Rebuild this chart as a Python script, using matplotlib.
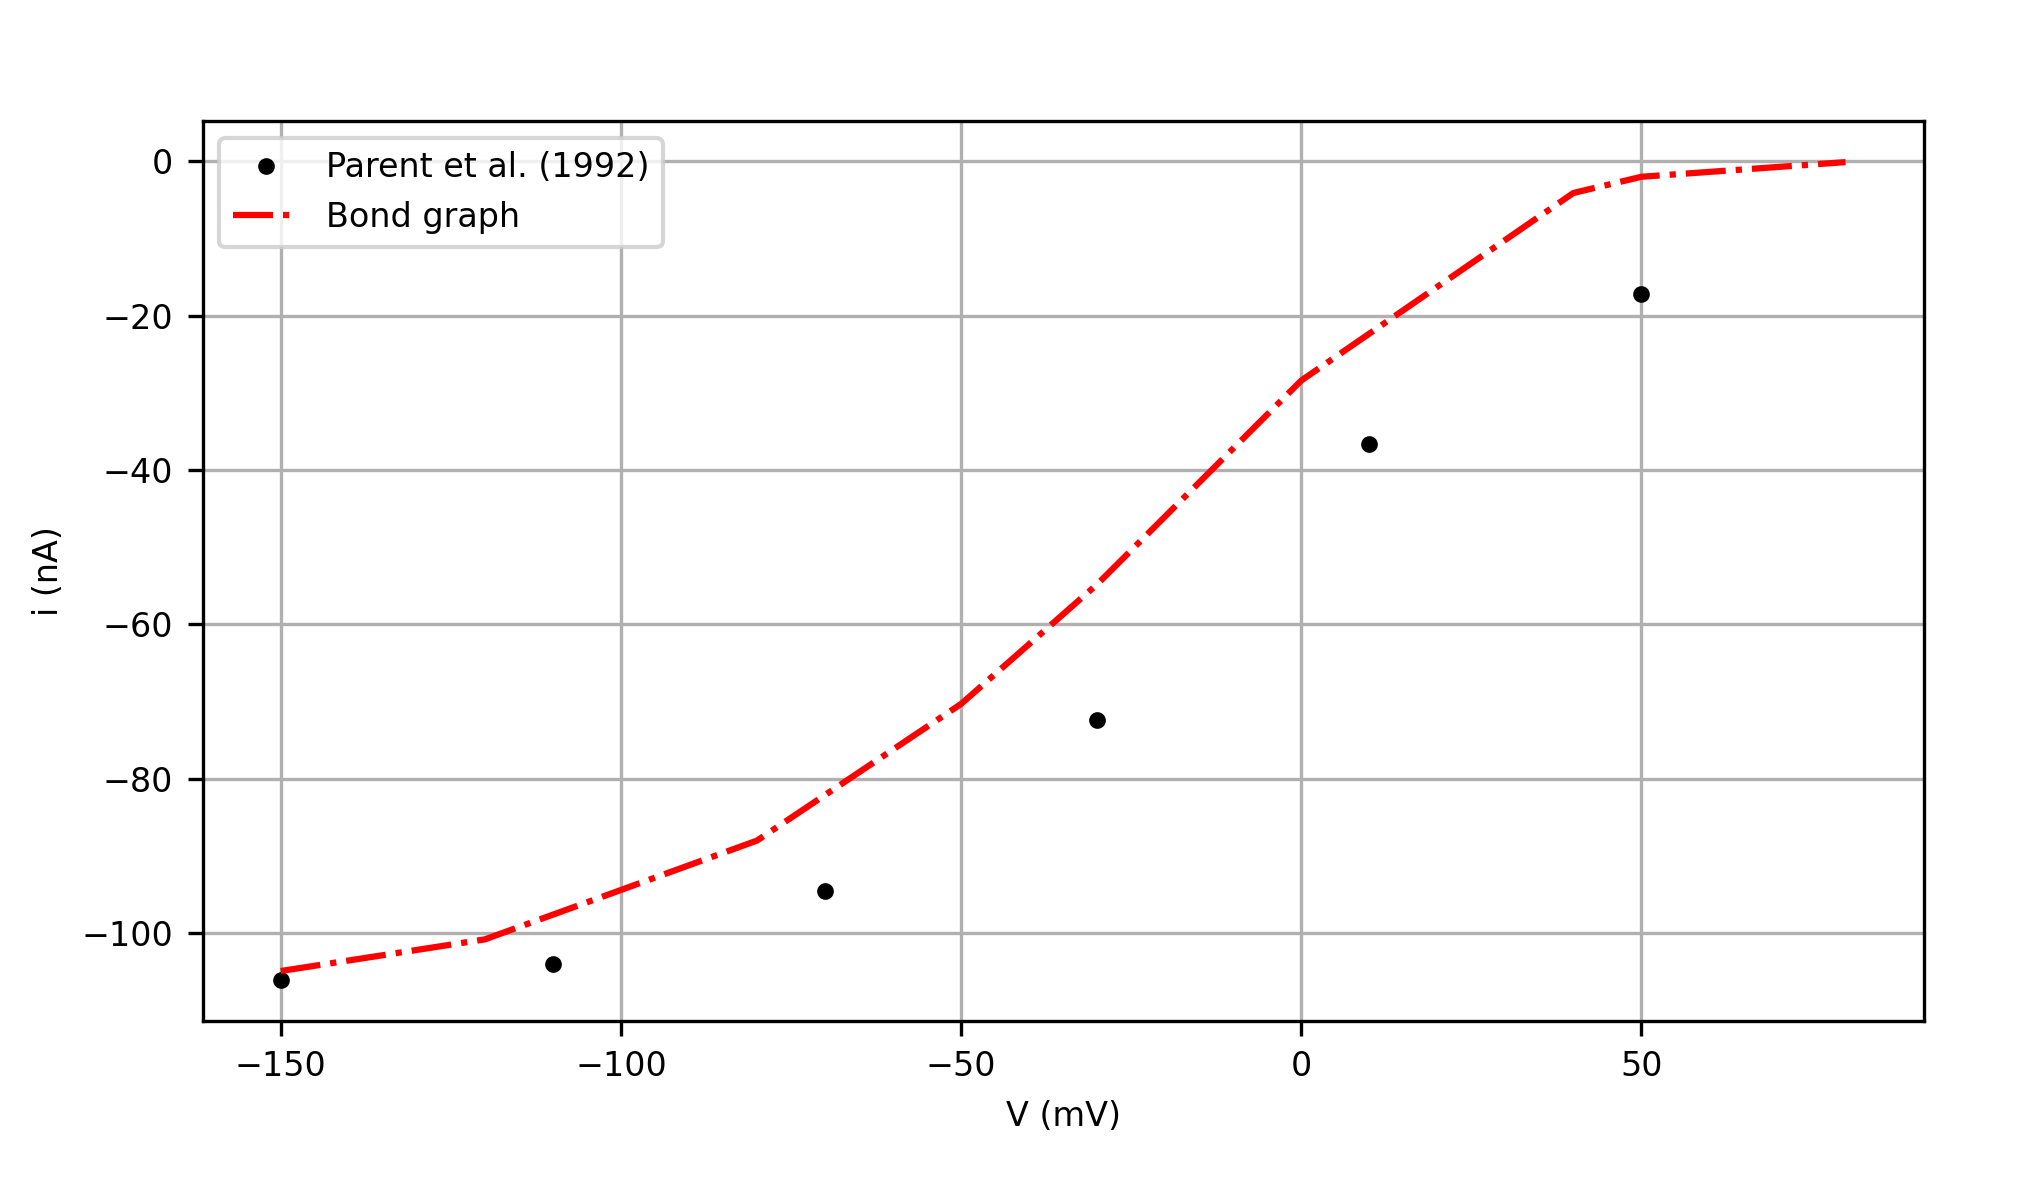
import numpy as np
import matplotlib
matplotlib.use('Agg')
import matplotlib.pyplot as plt

#------------------------------- Data ----------------------------------------
# experimental points (Parent et al. 1992)
v_exp = [-150, -110, -70, -30, 10, 50]
i_exp = [-106.1, -104.0, -94.5, -72.4, -36.6, -17.2]

# bond graph model
v_bg = [-150, -120, -80, -50, -30, 0, 40, 50, 80]
i_bg = [-104.9, -100.8, -88.0, -70.3, -54.8, -28.4, -4.1, -2.0, -0.1]

#------------------------------- Plot ----------------------------------------
plt.rcParams['font.size'] = 8
dpi = 300
fig = plt.figure(figsize=(2025.0 / dpi, 1200.0 / dpi), dpi=dpi)
ax = fig.add_subplot(111)
fig.subplots_adjust(left=0.100, right=0.950, bottom=0.149, top=0.899)

ax.plot(v_exp, i_exp, 'k.', label='Parent et al. (1992)')
ax.plot(v_bg, i_bg, 'r-.', label='Bond graph')

ax.set_xlabel('V (mV)')
ax.set_ylabel('i (nA)')
ax.grid(True)
ax.legend(loc='upper left')

fig.savefig('out.png', dpi=dpi)
